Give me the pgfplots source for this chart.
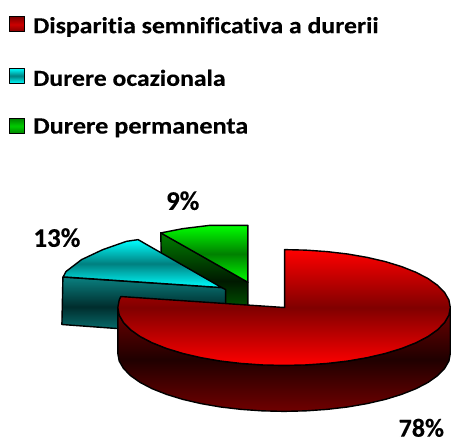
\documentclass[border=0pt]{standalone}
\usepackage{pgfplots}
\pgfplotsset{compat=1.18}
\usepackage{fontspec}
\setmainfont{Carlito}[Ligatures=NoCommon,FakeStretch=1.12,BoldFeatures={FakeBold=0.25}]
\newfontfamily\labelfont{Carlito}[Ligatures=NoCommon,BoldFeatures={FakeBold=0.25}]
\definecolor{rM}{RGB}{128,0,0}
\definecolor{rW}{RGB}{112,0,0}
\definecolor{rD}{RGB}{32,0,0}
\definecolor{cM}{RGB}{0,128,128}
\definecolor{cW}{RGB}{10,128,128}
\definecolor{cD}{RGB}{0,45,45}
\definecolor{gM}{RGB}{0,128,0}
\definecolor{gW}{RGB}{0,128,0}
\definecolor{gD}{RGB}{0,25,0}
\definecolor{pRed}{RGB}{255,0,0}
\definecolor{pCyan}{RGB}{0,255,255}
\definecolor{pGreen}{RGB}{0,255,0}
\pgfplotsset{
  face/.style n args={3}{draw=black,line width=1.4pt,line join=round,top color=#1,bottom color=#3,middle color=#2},
}
\begin{document}
\begin{tikzpicture}
\begin{axis}[
  scale only axis,width=451pt,height=441pt,
  xmin=0,xmax=451,ymin=0,ymax=441,y dir=reverse,
  hide axis,clip=false]
\path (axis cs:0,0) rectangle (axis cs:451,441);
% green slice
\addplot[face={gW}{gD}{gW}] coordinates {(161,233) (248.3,282.7) (248.3,330) (162,280)} -- cycle;
\addplot[face={pGreen}{gM}{pGreen}] coordinates {(161,233.3) (183,229) (210,225.7) (248.3,225.7) (248.3,282.7)} -- cycle;
% cyan slice
\addplot[face={cW}{cD}{cW}] coordinates {(63,277.5) (222,288) (226,290) (226,337) (62,325)} -- cycle;
\addplot[face={pCyan}{cM}{pCyan}] coordinates {(63.3,277.3) (66,272) (81.7,260) (103,250) (126.7,241.7) (138.3,240) (222,288)} -- cycle;
% red slice
\addplot[face={rW}{rD}{rW}] coordinates {(451,308) (449.6,315.6) (445.3,323) (438.3,330.2) (428.7,337) (416.6,343.3) (402.2,349) (385.9,354) (367.8,358.2) (348.2,361.6) (327.6,364) (306.2,365.5) (284.5,366) (262.8,365.5) (241.4,364) (220.8,361.6) (201.2,358.2) (183.1,354) (166.8,349) (152.4,343.3) (140.3,337) (130.7,330.2) (123.7,323) (119.4,315.6) (118,308)
 (118,354) (119.4,361.6) (123.7,369) (130.7,376.2) (140.3,383) (152.4,389.3) (166.8,395) (183.1,400) (201.2,404.2) (220.8,407.6) (241.4,410) (262.8,411.5) (284.5,412) (306.2,411.5) (327.6,410) (348.2,407.6) (367.8,404.2) (385.9,400) (402.2,395) (416.6,389.3) (428.7,383) (438.3,376.2) (445.3,369) (449.6,361.6) (451,354)} -- cycle;
\addplot[face={pRed}{rM}{pRed}] coordinates {(285,308) (285,250) (306.2,250.5) (327.6,252) (348.2,254.4) (367.8,257.8) (385.9,262) (402.2,267) (416.6,272.7) (428.7,279) (438.3,285.8) (445.3,293) (449.6,300.4) (451,308) (449.6,315.6) (445.3,323) (438.3,330.2) (428.7,337) (416.6,343.3) (402.2,349) (385.9,354) (367.8,358.2) (348.2,361.6) (327.6,364) (306.2,365.5) (284.5,366) (262.8,365.5) (241.4,364) (220.8,361.6) (201.2,358.2) (183.1,354) (166.8,349) (152.4,343.3) (140.3,337) (130.7,330.2) (123.7,323) (119.4,315.6) (118,308) (119.4,300.4) (121,297)} -- cycle;
% legend swatches
\addplot[face={rM}{pRed!80!black}{rM},line width=1pt] coordinates {(9.5,17) (25,17) (25,32) (9.5,32)} -- cycle;
\addplot[face={pCyan}{cM}{pCyan},line width=1pt] coordinates {(9.5,68.5) (25,68.5) (25,83.5) (9.5,83.5)} -- cycle;
\addplot[face={gM}{pGreen!80!black}{gM},line width=1pt] coordinates {(9.5,118.5) (25,118.5) (25,134) (9.5,134)} -- cycle;
% texts
\node[anchor=west,inner sep=0pt,font=\fontsize{23}{27}\selectfont\bfseries] at (axis cs:33,27) {Disparitia semnificativa a durerii};
\node[anchor=west,inner sep=0pt,font=\fontsize{23}{27}\selectfont\bfseries] at (axis cs:33,78) {Durere ocazionala};
\node[anchor=west,inner sep=0pt,font=\fontsize{23.5}{27}\selectfont\bfseries] at (axis cs:33,128) {Durere permanenta};
\node[inner sep=0pt,font=\labelfont\fontsize{27}{30}\selectfont\bfseries] at (axis cs:183,201) {9\%};
\node[inner sep=0pt,font=\labelfont\fontsize{27}{30}\selectfont\bfseries] at (axis cs:57,238) {13\%};
\node[inner sep=0pt,font=\labelfont\fontsize{26}{30}\selectfont\bfseries] at (axis cs:422,428.5) {78\%};
\end{axis}
\end{tikzpicture}
\end{document}
